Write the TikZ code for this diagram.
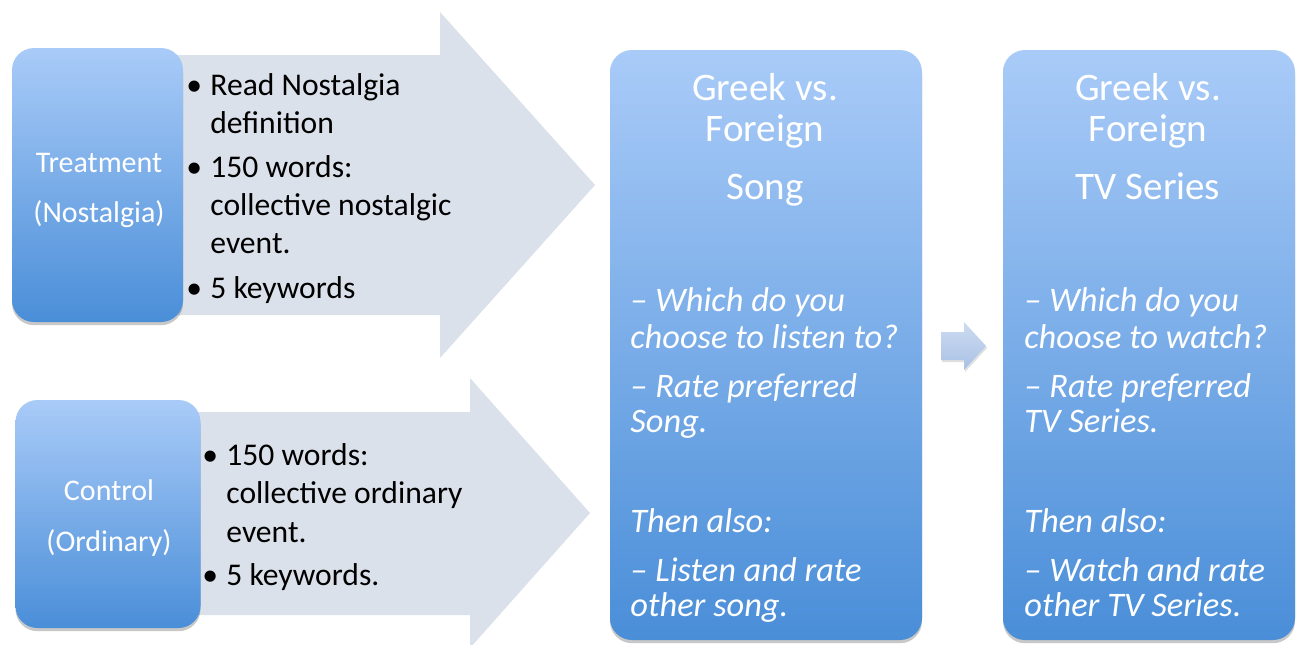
\documentclass[tikz,border=0pt]{standalone}
\usepackage{fontspec}
\setmainfont{Carlito}
\usetikzlibrary{shadows}
\definecolor{boxtop}{HTML}{A9CBF8}
\definecolor{boxbot}{HTML}{4A8ED8}
\definecolor{arrowfill}{HTML}{DBE1EA}
\definecolor{smalltop}{HTML}{CDDBF2}
\definecolor{smallbot}{HTML}{A9C1E4}
\begin{document}
\begin{tikzpicture}[x=0.5pt,y=-0.5pt,
  box/.style={rectangle, rounded corners=11pt, inner sep=0pt, draw=none,
    top color=boxtop, bottom color=boxbot,
    drop shadow={shadow xshift=0pt, shadow yshift=-1.6pt, opacity=0.3, fill=black!70}},
  grouplbl/.style={anchor=base, inner sep=0pt, text=white, font=\fontsize{15}{18}\selectfont},
  bul/.style={anchor=base west, inner sep=0pt, font=\fontsize{15.8}{19}\selectfont},
  arrtxt/.style={anchor=base west, inner sep=0pt, font=\fontsize{15.8}{19}\selectfont},
  title/.style={anchor=base, inner sep=0pt, text=white, font=\fontsize{19.5}{23}\selectfont},
  itl/.style={anchor=base west, inner sep=0pt, text=white, font=\fontsize{17.2}{20}\selectfont\itshape}]
\useasboundingbox (0,0) rectangle (1299,644);
\clip (0,0) rectangle (1299,644);
\fill[white] (0,0) rectangle (1299,644);

% big arrows
\fill[arrowfill] (170,55) -- (440,55) -- (440,12) -- (595,185) -- (440,358) -- (440,315) -- (170,315) -- cycle;
\fill[arrowfill] (185,412) -- (470,412) -- (470,378) -- (590,513) -- (470,648) -- (470,615) -- (185,615) -- cycle;

% boxes
\node[box, minimum width=85.5pt, minimum height=137pt] (treat) at (97.5,185) {};
\node[box, minimum width=92.5pt, minimum height=114pt] (ctrl) at (108,514) {};
\node[box, minimum width=156pt, minimum height=295pt] (song) at (766,345) {};
\node[box, minimum width=146pt, minimum height=295pt] (tv) at (1149,345) {};

% small arrow
\shade[top color=smalltop, bottom color=smallbot,
  drop shadow={shadow xshift=0.5pt, shadow yshift=-1pt, opacity=0.2, fill=black!60}]
  (941,332) -- (964,332) -- (964,322) -- (986,346) -- (964,370) -- (964,360) -- (941,360) -- cycle;

% group labels
\node[grouplbl] (tl1) at (99,172) {Treatment};
\node[grouplbl] (tl2) at (99,222) {(Nostalgia)};
\node[grouplbl] (cl1) at (109,500) {Control};
\node[grouplbl] (cl2) at (109,551) {(Ordinary)};

% treatment arrow text
\node[bul] (tb1) at (186,95) {•};
\node[arrtxt] (t1) at (210,95) {Read Nostalgia};
\node[arrtxt] (t2) at (210,133) {definition};
\node[bul] (tb2) at (186,177) {•};
\node[arrtxt] (t3) at (210,177) {150 words:};
\node[arrtxt] (t4) at (210,215) {collective nostalgic};
\node[arrtxt] (t5) at (210,253) {event.};
\node[bul] (tb3) at (186,298) {•};
\node[arrtxt] (t6) at (210,298) {5 keywords};

% control arrow text
\node[bul] (cb1) at (202,465) {•};
\node[arrtxt] (c1) at (226,465) {150 words:};
\node[arrtxt] (c2) at (226,503) {collective ordinary};
\node[arrtxt] (c3) at (226,542) {event.};
\node[bul] (cb2) at (202,585) {•};
\node[arrtxt] (c4) at (226,585) {5 keywords.};

% song box text
\node[title] (s1) at (765,100) {Greek vs.};
\node[title] (s2) at (765,141) {Foreign};
\node[title] (s3) at (765,199) {Song};
\node[itl] (s4) at (630,311) {– Which do you};
\node[itl] (s5) at (630,348) {choose to listen to?};
\node[itl] (s6) at (630,397) {– Rate preferred};
\node[itl] (s7) at (630,432) {Song.};
\node[itl] (s8) at (630,532) {Then also:};
\node[itl] (s9) at (630,581) {– Listen and rate};
\node[itl] (s10) at (630,616) {other song.};

% tv box text
\node[title] (v1) at (1148,100) {Greek vs.};
\node[title] (v2) at (1148,141) {Foreign};
\node[title] (v3) at (1148,199) {TV Series};
\node[itl] (v4) at (1024,311) {– Which do you};
\node[itl] (v5) at (1024,348) {choose to watch?};
\node[itl] (v6) at (1024,397) {– Rate preferred};
\node[itl] (v7) at (1024,432) {TV Series.};
\node[itl] (v8) at (1024,532) {Then also:};
\node[itl] (v9) at (1024,581) {– Watch and rate};
\node[itl] (v10) at (1024,616) {other TV Series.};
\end{tikzpicture}
\end{document}
